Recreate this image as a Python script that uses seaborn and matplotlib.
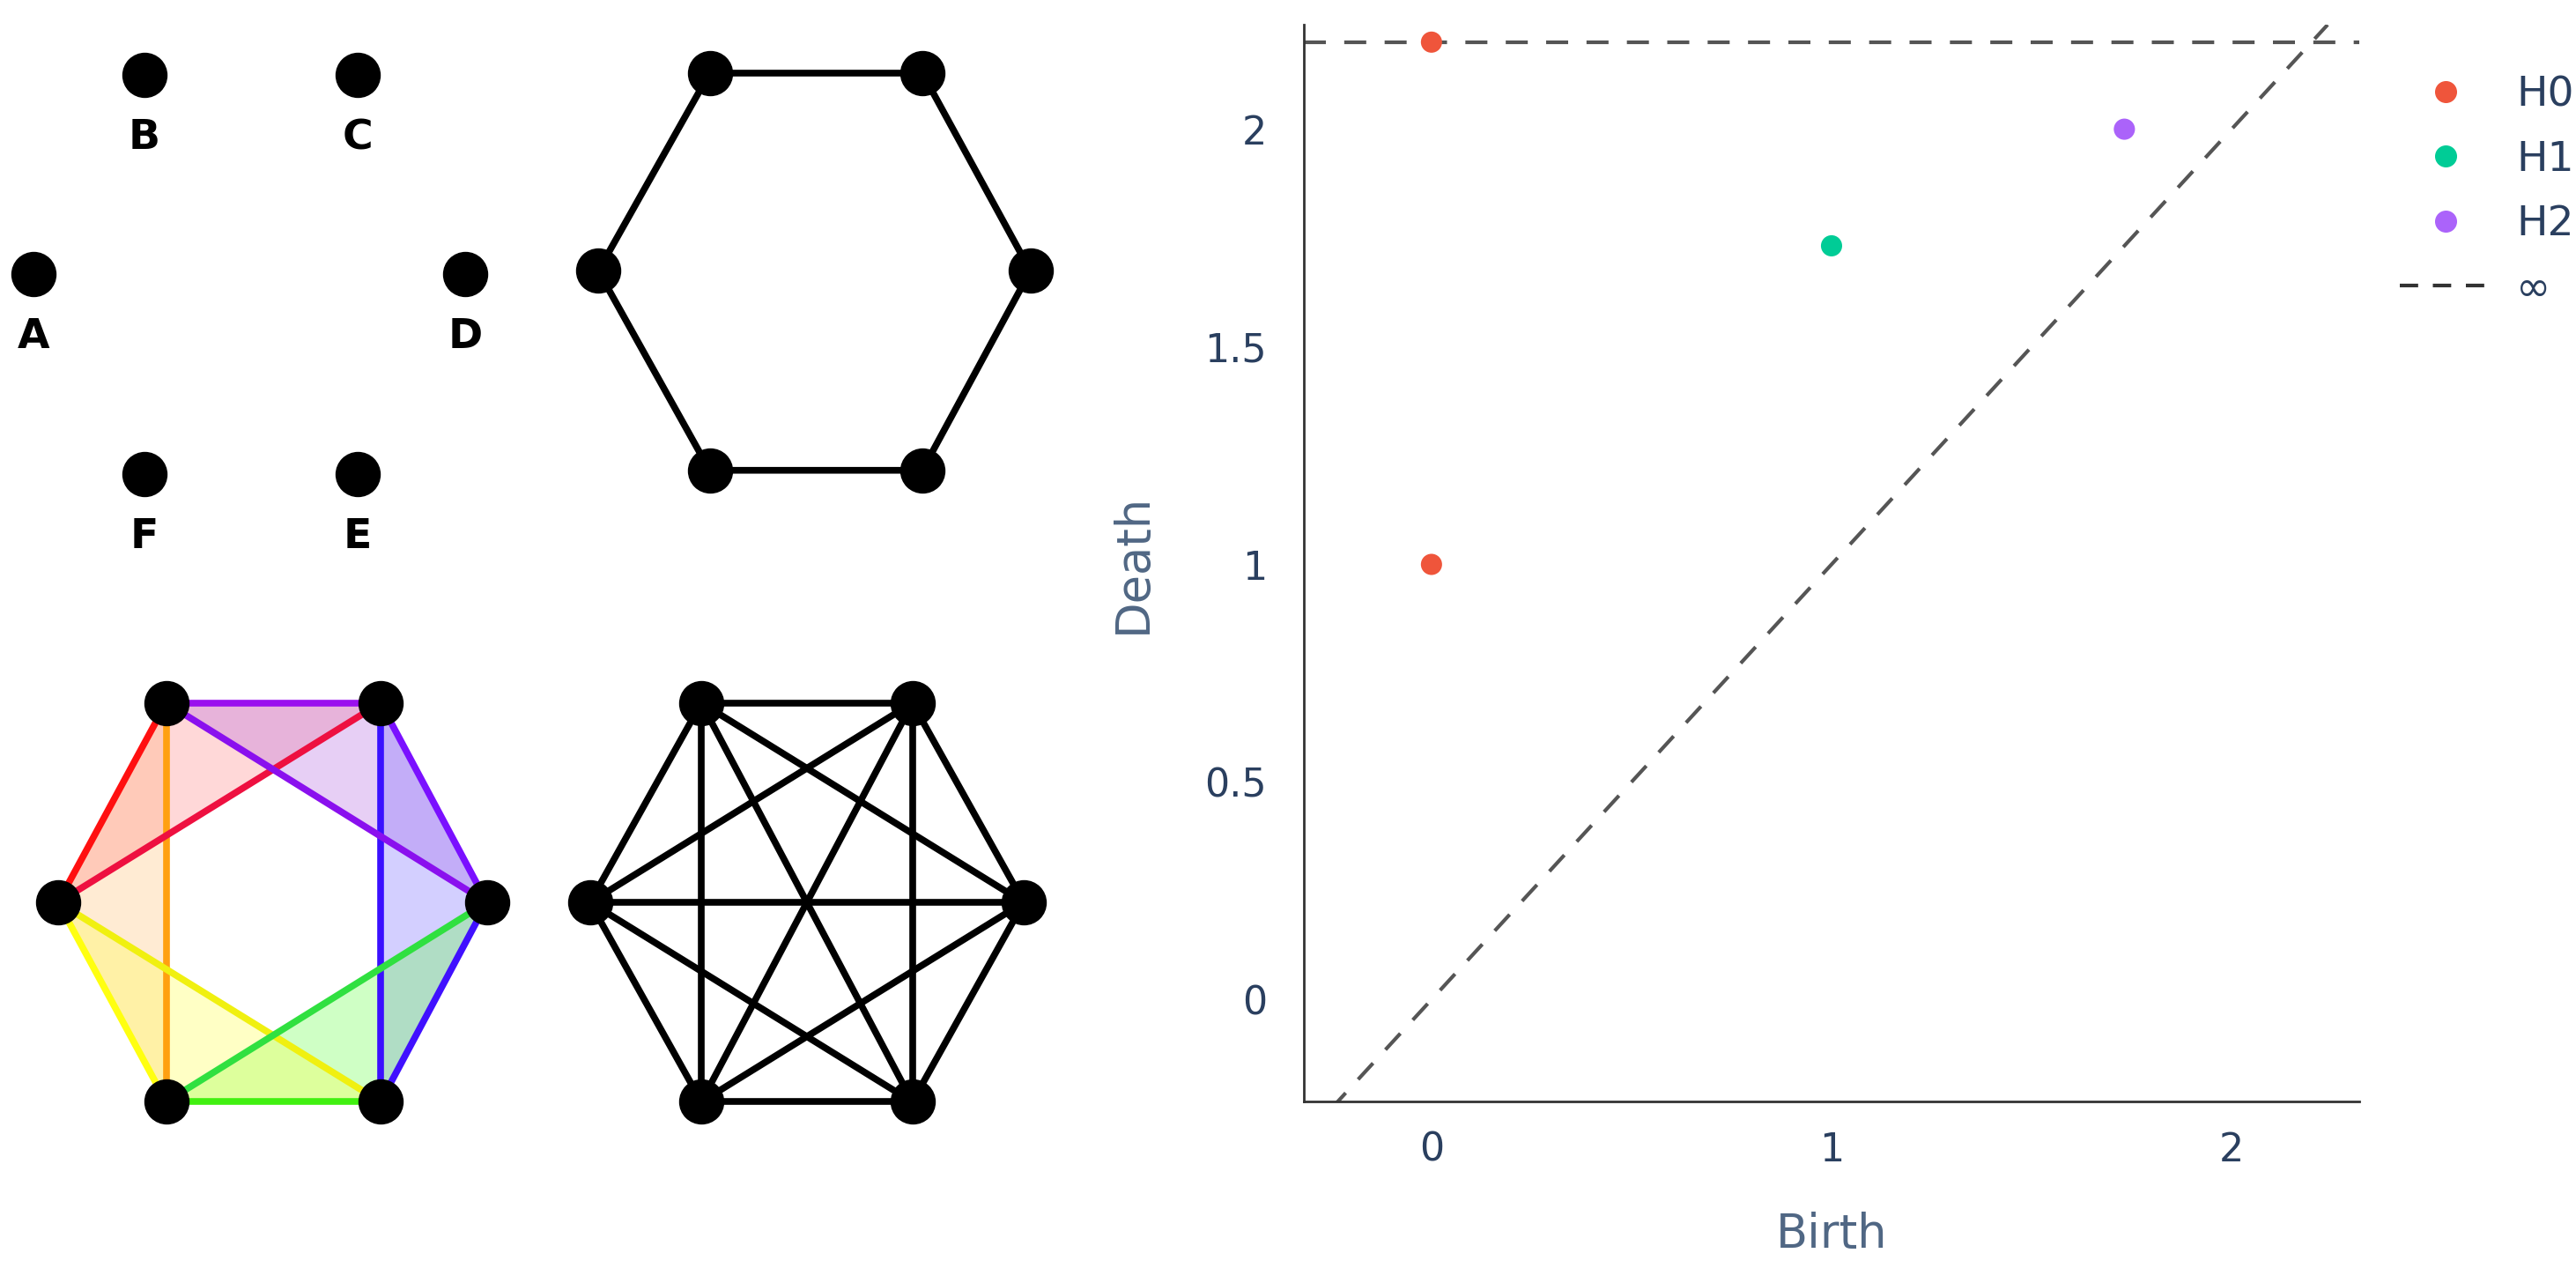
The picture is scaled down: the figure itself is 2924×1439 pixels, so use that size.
import numpy as np
import pandas as pd
import matplotlib.pyplot as plt
import seaborn as sns
from matplotlib.lines import Line2D
from matplotlib.patches import Polygon

sns.set_style('white')
plt.rcParams['font.family'] = ['DejaVu Sans']

# persistence diagram data
birth = [0, 0, 1, 1.732]
death = [2.2, 1, 1.732, 2]
dim = ['H0', 'H0', 'H1', 'H2']
inf_level = 2.2
palette = {'H0': '#EF553B', 'H1': '#00CC96', 'H2': '#AB63FA'}

# left-hand graph sketches (layout units of the left panel)
labels = ['A', 'B', 'C', 'D', 'E', 'F']
pts_xy = [(20, 165), (87, 45), (215, 45), (280, 165), (215, 285), (87, 285)]
hex_xy = [(360, 163), (427, 44), (555, 44), (620, 163), (555, 283), (427, 283)]
col_xy = [(35, 543), (100, 423), (229, 423), (293, 543), (229, 663), (100, 663)]
full_xy = [(355, 543), (422, 423), (549, 423), (616, 543), (549, 663), (422, 663)]
# coloured complex: vertices L, TL, TR, R, BR, BL -> indices 0..5
tri = [(0, 1, 5), (0, 1, 2), (1, 2, 3), (2, 3, 4), (3, 4, 5), (4, 5, 0)]
tri_col = ['#ffc070', '#ff8080', '#b060e0', '#7060ff', '#60ff40', '#ffff40']
edges = [(0, 1), (1, 2), (2, 3), (3, 4), (4, 5), (5, 0), (1, 5), (2, 4), (0, 2), (1, 3), (0, 4), (5, 3)]
edge_col = ['#ff1010', '#9a10ee', '#7a10ff', '#4010ff', '#40f010', '#ffff10',
            '#ffa010', '#3a10ff', '#ee1040', '#8a10ee', '#f0f010', '#30e040']

fig = plt.figure(figsize=(29.24, 14.39), dpi=100)

ax0 = fig.add_axes([0, 0, 0.5, 1])
ax0.set_xlim(0, 775)
ax0.set_ylim(763, 0)
ax0.axis('off')
dot = dict(marker='o', ms=36, color='black', ls='none', zorder=5)
lw = 5.5

# isolated points with labels
for (x, y), lab in zip(pts_xy, labels):
    ax0.plot(x, y, **dot)
    ax0.text(x, y + 38, lab, ha='center', va='center', fontsize=34, fontweight='bold', color='black')

# hexagon
hx = [p[0] for p in hex_xy] + [hex_xy[0][0]]
hy = [p[1] for p in hex_xy] + [hex_xy[0][1]]
ax0.plot(hx, hy, color='black', lw=lw)
ax0.plot([p[0] for p in hex_xy], [p[1] for p in hex_xy], **dot)

# coloured complex
for t, c in zip(tri, tri_col):
    ax0.add_patch(Polygon([col_xy[i] for i in t], closed=True, fc=c, ec='none', alpha=0.3))
for (i, j), c in zip(edges, edge_col):
    ax0.plot([col_xy[i][0], col_xy[j][0]], [col_xy[i][1], col_xy[j][1]], color=c, lw=lw)
ax0.plot([p[0] for p in col_xy], [p[1] for p in col_xy], **dot)

# complete graph
for i in range(6):
    for j in range(i + 1, 6):
        ax0.plot([full_xy[i][0], full_xy[j][0]], [full_xy[i][1], full_xy[j][1]], color='black', lw=lw)
ax0.plot([p[0] for p in full_xy], [p[1] for p in full_xy], **dot)

# persistence diagram
ax = fig.add_axes([0.506, 0.131, 0.41, 0.8495])
df = pd.DataFrame({'Birth': birth, 'Death': death, 'dim': dim})
xmin, xmax = -0.32, 2.32
ymin, ymax = -0.235, 2.24
ax.plot([xmin, ymax], [xmin, ymax], ls=(0, (6, 5)), color='#555555', lw=3, zorder=1)
ax.axhline(inf_level, ls=(0, (6, 5)), color='#555555', lw=3, zorder=1)
sns.scatterplot(data=df, x='Birth', y='Death', hue='dim', palette=palette, s=300,
                edgecolor='none', ax=ax, legend=False, zorder=3)
ax.set_xlim(xmin, xmax)
ax.set_ylim(ymin, ymax)
ax.set_xticks([0, 1, 2])
ax.set_xticklabels(['0', '1', '2'])
ax.set_yticks([0, 0.5, 1, 1.5, 2])
ax.set_yticklabels(['0', '0.5', '1', '1.5', '2'])
ax.tick_params(axis='x', length=10, width=1.5, color='#333333', labelsize=32, labelcolor='#2a3f5f', pad=14)
ax.tick_params(axis='y', length=0, labelsize=32, labelcolor='#2a3f5f', pad=30)
ax.set_xlabel('Birth', fontsize=38, color='#506784', labelpad=35)
ax.set_ylabel('Death', fontsize=38, color='#506784', labelpad=40)
for s in ['top', 'right']:
    ax.spines[s].set_visible(False)
for s in ['left', 'bottom']:
    ax.spines[s].set_color('#333333')
    ax.spines[s].set_linewidth(2)

handles = [Line2D([], [], marker='o', ls='none', color=palette[k], ms=17) for k in ['H0', 'H1', 'H2']]
handles.append(Line2D([], [], ls=(0, (5, 4)), color='#333333', lw=3))
fig.legend(handles, ['H0', 'H1', 'H2', '∞'], loc='upper left', bbox_to_anchor=(0.917, 0.97),
           frameon=False, fontsize=34, labelcolor='#2a3f5f', handlelength=2.2, labelspacing=0.6,
           handletextpad=0.6)

fig.savefig('out.png', dpi=100)
